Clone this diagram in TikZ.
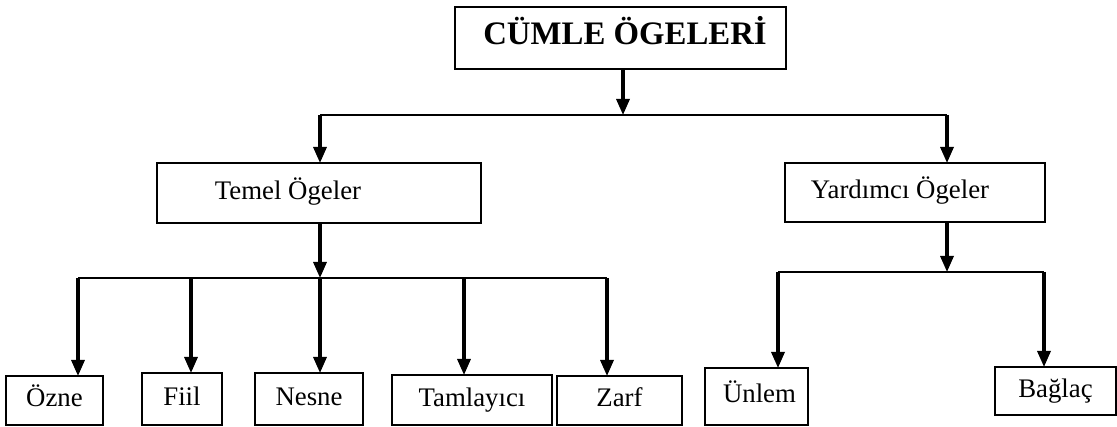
\documentclass[tikz,border=0pt]{standalone}
\usepackage{fontspec}
\setmainfont{Liberation Serif}
\usetikzlibrary{arrows.meta}
\begin{document}
\begin{tikzpicture}[x=1pt,y=-1pt,
  box/.style={draw, line width=2.8pt, inner sep=0pt, outer sep=0pt, align=center,
    text height=18pt, text depth=5pt, font=\fontsize{26.8}{30}\selectfont},
  arr/.style={line width=3.2pt, -{Triangle[length=16pt,width=13pt]}},
  bus/.style={line width=2.8pt}]
\useasboundingbox (0,0) rectangle (1117,427);
% nodes
\node[box, minimum width=331pt, minimum height=62pt, text height=22pt, text depth=8pt,
  font=\bfseries\fontsize{32.8}{36}\selectfont] (title) at (620.5,38) {\hspace*{9pt}CÜMLE ÖGELERİ};
\node[box, minimum width=324pt, minimum height=60pt] (temel) at (319,193) {Temel Ögeler\hspace*{62pt}};
\node[box, minimum width=260pt, minimum height=59pt] (yard) at (915,192.5) {Yardımcı Ögeler\hspace*{30pt}};
\node[box, minimum width=97pt, minimum height=49pt] (ozne) at (54.5,400.5) {Özne};
\node[box, minimum width=80pt, minimum height=52pt] (fiil) at (182,399) {Fiil};
\node[box, minimum width=108pt, minimum height=52pt] (nesne) at (309,399) {Nesne};
\node[box, minimum width=160pt, minimum height=50pt] (tam) at (472,400) {Tamlayıcı};
\node[box, minimum width=125pt, minimum height=49pt] (zarf) at (619.5,400.5) {Zarf};
\node[box, minimum width=103pt, minimum height=57pt] (unlem) at (756.5,396.5) {\hspace*{6pt}Ünlem};
\node[box, minimum width=121pt, minimum height=48pt] (baglac) at (1055.5,391) {Bağlaç};
% junction points
\coordinate (tb) at (623,115);
\coordinate (tl) at (320,278);
\coordinate (yb) at (947,272);
% top level
\draw[arr] (title.south -| tb) -- (tb);
\draw[bus] ([xshift=1pt]temel.north |- tb) -- ([xshift=32pt]yard.north |- tb);
\draw[arr] ([xshift=1pt]temel.north |- tb) -- ([xshift=1pt]temel.north);
\draw[arr] ([xshift=32pt]yard.north |- tb) -- ([xshift=32pt]yard.north);
% Temel branch
\draw[arr] (temel.south -| tl) -- (tl);
\draw[bus] ([xshift=23.5pt]ozne.north |- tl) -- ([xshift=-12.5pt]zarf.north |- tl);
\draw[arr] ([xshift=23.5pt]ozne.north |- tl) -- ([xshift=23.5pt]ozne.north);
\draw[arr] ([xshift=9pt]fiil.north |- tl) -- ([xshift=9pt]fiil.north);
\draw[arr] ([xshift=11pt]nesne.north |- tl) -- ([xshift=11pt]nesne.north);
\draw[arr] ([xshift=-8pt]tam.north |- tl) -- ([xshift=-8pt]tam.north);
\draw[arr] ([xshift=-12.5pt]zarf.north |- tl) -- ([xshift=-12.5pt]zarf.north);
% Yardimci branch
\draw[arr] (yard.south -| yb) -- (yb);
\draw[bus] ([xshift=21.5pt]unlem.north |- yb) -- ([xshift=-11.5pt]baglac.north |- yb);
\draw[arr] ([xshift=21.5pt]unlem.north |- yb) -- ([xshift=21.5pt]unlem.north);
\draw[arr] ([xshift=-11.5pt]baglac.north |- yb) -- ([xshift=-11.5pt]baglac.north);
\end{tikzpicture}
\end{document}
